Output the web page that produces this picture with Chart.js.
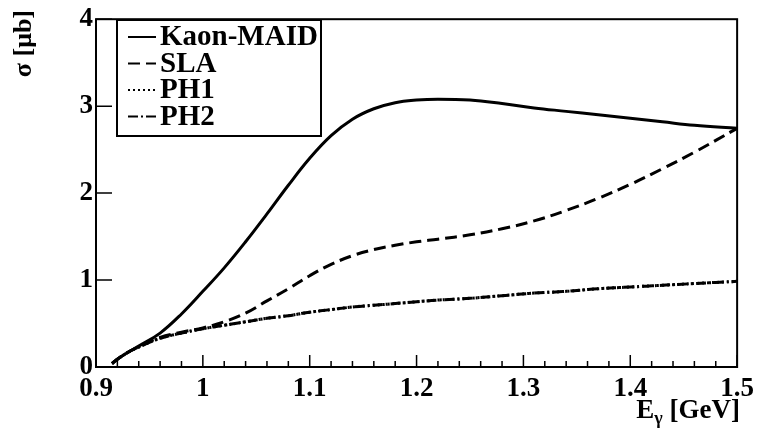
<!DOCTYPE html>
<html>
<head>
<meta charset="utf-8">
<script src="https://cdn.jsdelivr.net/npm/chart.js@4/dist/chart.umd.min.js"></script>
<style>
  body { margin: 0; background: #fff; }
</style>
</head>
<body>
<canvas id="sigmaChart" width="760" height="430"></canvas>
<script>
// photon energy grid (GeV) shared by all curves
var energies = [0.915, 0.92, 0.93, 0.94, 0.96, 0.98, 1.0, 1.02, 1.04, 1.06, 1.08, 1.1, 1.12, 1.14, 1.16, 1.18, 1.2, 1.22, 1.25, 1.28, 1.31, 1.34, 1.37, 1.4, 1.43, 1.46, 1.5];

// cross sections (mub)
var kaonMaid = [0.04, 0.09, 0.17, 0.24, 0.39, 0.61, 0.87, 1.14, 1.44, 1.76, 2.09, 2.40, 2.66, 2.85, 2.97, 3.04, 3.07, 3.08, 3.07, 3.03, 2.98, 2.94, 2.90, 2.86, 2.82, 2.78, 2.745];
var sla      = [0.04, 0.09, 0.17, 0.23, 0.34, 0.40, 0.45, 0.52, 0.62, 0.76, 0.90, 1.05, 1.18, 1.28, 1.35, 1.40, 1.44, 1.47, 1.52, 1.59, 1.68, 1.80, 1.94, 2.10, 2.28, 2.47, 2.745];
var ph1      = [0.04, 0.09, 0.17, 0.23, 0.33, 0.39, 0.44, 0.48, 0.52, 0.56, 0.59, 0.63, 0.66, 0.69, 0.71, 0.73, 0.75, 0.77, 0.79, 0.82, 0.85, 0.87, 0.90, 0.92, 0.94, 0.96, 0.985];
var ph2      = [0.04, 0.09, 0.17, 0.23, 0.33, 0.39, 0.44, 0.48, 0.52, 0.56, 0.59, 0.63, 0.66, 0.69, 0.71, 0.73, 0.75, 0.77, 0.79, 0.82, 0.85, 0.87, 0.90, 0.92, 0.94, 0.96, 0.985];

var xTicks = [0.9, 1.0, 1.1, 1.2, 1.3, 1.4, 1.5];
var xTickLabels = ["0.9", "1", "1.1", "1.2", "1.3", "1.4", "1.5"];
var yTicks = [0, 1, 2, 3, 4];
var yTickLabels = ["0", "1", "2", "3", "4"];

var font = "'Liberation Serif', 'DejaVu Serif', serif";

function pts(ys) {
    return energies.map(function (e, i) { return {x: e, y: ys[i]}; });
}

function curve(label, ys, dash) {
    return {
        label: label,
        data: pts(ys),
        borderColor: "#000",
        borderWidth: 3,
        borderDash: dash,
        pointRadius: 0,
        fill: false,
        tension: 0.4
    };
}

// frame, inward ticks, legend box and axis titles (ROOT style)
var rootStyle = {
    id: "rootStyle",
    afterDraw: function (chart) {
        var c = chart.ctx, a = chart.chartArea;
        var xs = chart.scales.x, ys = chart.scales.y;
        c.save();
        c.strokeStyle = "#000";
        c.fillStyle = "#000";
        c.lineWidth = 2;
        c.setLineDash([]);
        c.strokeRect(a.left, a.top, a.right - a.left, a.bottom - a.top);

        c.beginPath();
        xTicks.forEach(function (v) {
            var px = xs.getPixelForValue(v);
            c.moveTo(px, a.bottom); c.lineTo(px, a.bottom - 12);
        });
        for (var k = 0; k < 30; k++) {
            var px = xs.getPixelForValue(0.9 + k * 0.02);
            c.moveTo(px, a.bottom); c.lineTo(px, a.bottom - 6);
        }
        yTicks.forEach(function (v) {
            var py = ys.getPixelForValue(v);
            c.moveTo(a.left, py); c.lineTo(a.left + 16, py);
        });
        c.lineWidth = 1.5;
        c.stroke();

        // legend
        var lx = 117, ly = 20, lw = 204, lh = 116;
        c.fillStyle = "#fff";
        c.fillRect(lx, ly, lw, lh);
        c.lineWidth = 2;
        c.strokeRect(lx, ly, lw, lh);
        c.fillStyle = "#000";
        c.font = "bold 29px " + font;
        c.textBaseline = "middle";
        c.textAlign = "left";
        chart.data.datasets.forEach(function (ds, i) {
            var yy = 37 + i * 26.5;
            c.beginPath();
            c.lineWidth = 2;
            c.setLineDash(ds.borderDash || []);
            c.moveTo(128, yy); c.lineTo(156, yy);
            c.stroke();
            c.setLineDash([]);
            c.fillText(ds.label, 160, yy + 1);
        });

        // axis titles
        c.textBaseline = "alphabetic";
        c.textAlign = "right";
        c.font = "bold 27px " + font;
        c.fillText("[GeV]", 740, 418);
        var w = c.measureText(" [GeV]").width;
        c.font = "bold 18px " + font;
        var gw = c.measureText("\u03b3").width;
        c.fillText("\u03b3", 740 - w, 424);
        c.font = "bold 27px " + font;
        c.fillText("E", 740 - w - gw, 418);

        c.translate(31, 10);
        c.rotate(-Math.PI / 2);
        c.font = "bold 26px " + font;
        c.textAlign = "right";
        c.fillText("\u03c3 [\u03bcb]", 0, 0);
        c.restore();
    }
};

var ctx = document.getElementById("sigmaChart").getContext("2d");
new Chart(ctx, {
    type: "line",
    data: {
        datasets: [
            curve("Kaon-MAID", kaonMaid, []),
            curve("SLA", sla, [12, 6]),
            curve("PH1", ph1, [2, 3]),
            curve("PH2", ph2, [10, 3, 2, 3])
        ]
    },
    options: {
        responsive: false,
        animation: false,
        layout: { padding: { top: 11, right: 22, left: 0, bottom: 0 } },
        plugins: { legend: { display: false }, tooltip: { enabled: false } },
        scales: {
            x: {
                type: "linear",
                min: 0.9,
                max: 1.5,
                grid: { display: false, drawTicks: false },
                border: { display: false },
                afterBuildTicks: function (s) { s.ticks = xTicks.map(function (v) { return {value: v}; }); },
                afterFit: function (s) { s.height = 63; },
                ticks: {
                    padding: 6,
                    maxRotation: 0,
                    autoSkip: false,
                    color: "#000",
                    font: { family: font, size: 27, weight: "bold" },
                    callback: function (v, i) { return xTickLabels[i]; }
                }
            },
            y: {
                min: 0,
                max: 4,
                grid: { display: false, drawTicks: false },
                border: { display: false },
                afterBuildTicks: function (s) { s.ticks = yTicks.map(function (v) { return {value: v}; }); },
                afterFit: function (s) { s.width = 96; },
                ticks: {
                    padding: 3,
                    autoSkip: false,
                    color: "#000",
                    font: { family: font, size: 27, weight: "bold" },
                    callback: function (v, i) { return yTickLabels[i]; }
                }
            }
        }
    },
    plugins: [rootStyle]
});
</script>
</body>
</html>
